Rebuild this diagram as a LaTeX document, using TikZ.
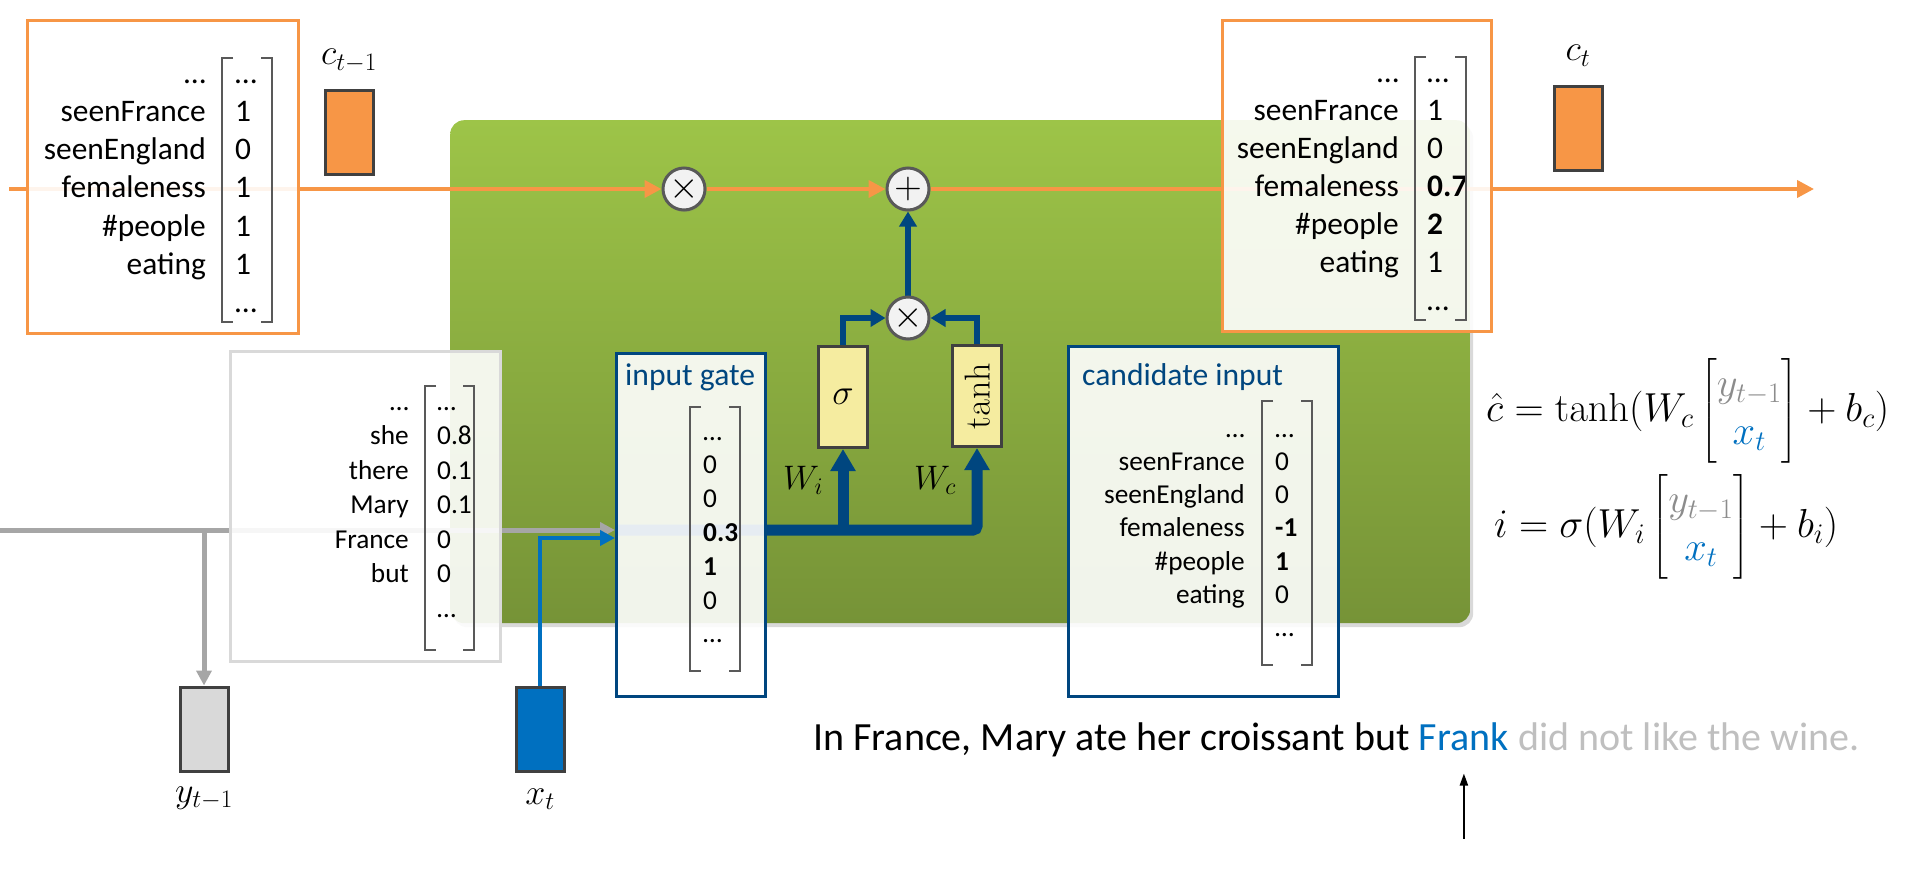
\RequirePackage{fix-cm}
\documentclass[tikz,border=0pt]{standalone}
\usepackage{amsmath}
\usepackage[no-math]{fontspec}
\setmainfont{Carlito}
\usetikzlibrary{positioning, arrows.meta, shadows}

\definecolor{cellorange}{RGB}{247,150,70}
\definecolor{darkrim}{RGB}{64,64,64}
\definecolor{lightrim}{RGB}{217,217,217}
\definecolor{gateblue}{RGB}{0,70,127}
\definecolor{xblue}{RGB}{0,112,192}
\definecolor{greytrack}{RGB}{166,166,166}
\definecolor{mathgrey}{RGB}{140,140,140}
\definecolor{actfill}{RGB}{245,236,160}
\definecolor{greentop}{RGB}{157,196,72}
\definecolor{greenbot}{RGB}{118,147,55}
\definecolor{opfill}{RGB}{242,242,242}
\definecolor{oprim}{RGB}{89,89,89}
\definecolor{fadetext}{RGB}{191,191,191}

\pgfdeclarelayer{body}
\pgfdeclarelayer{wires}
\pgfsetlayers{body,wires,main}

\newcommand{\vecbig}{\fontsize{31.4}{38}\selectfont}
\newcommand{\vecsmall}{\fontsize{27.3}{33}\selectfont}
\newcommand{\boxtitle}{\fontsize{31.6}{38}\selectfont}
\newcommand{\sentfont}{\fontsize{40}{48}\selectfont}
\newcommand{\mathbig}{\fontsize{36}{43}\selectfont}
\newcommand{\mathhuge}{\fontsize{40.5}{48}\selectfont}
\newcommand{\vecbracket}[4]{%
  \draw[vecbrk] (#1+11,#3) -- (#1,#3) -- (#1,#4) -- (#1+11,#4);
  \draw[vecbrk] (#2-11,#3) -- (#2,#3) -- (#2,#4) -- (#2-11,#4);}

\begin{document}
\begin{tikzpicture}[x=1pt, y=-1pt]
\tikzstyle{vecbox}=[draw, line width=3pt, fill=white, fill opacity=0.9, inner sep=0, anchor=north west]
\tikzstyle{rowlab}=[anchor=base east, inner sep=0]
\tikzstyle{rowval}=[anchor=base west, inner sep=0]
\tikzstyle{vecbrk}=[draw=oprim, line width=2pt]
\tikzstyle{boxhead}=[anchor=base west, inner sep=0, text=gateblue, font=\boxtitle]
\tikzstyle{cellrect}=[draw=darkrim, line width=3pt, minimum width=48pt, minimum height=84pt, inner sep=0]
\tikzstyle{opnode}=[circle, draw=oprim, line width=3pt, fill=opfill, minimum size=42pt, inner sep=0, font=\fontsize{38}{38}\selectfont, drop shadow={shadow xshift=1pt, shadow yshift=-2pt, opacity=0.25}]
\tikzstyle{actbox}=[draw=darkrim, line width=3pt, fill=actfill, minimum width=49pt, minimum height=101pt, inner sep=0, font=\fontsize{36}{36}\selectfont]
\tikzstyle{cellline}=[draw=cellorange, line width=4pt, -{Triangle[length=17pt,width=17pt]}]
\tikzstyle{greyline}=[draw=greytrack, line width=5pt, -{Triangle[length=15pt,width=15pt]}]
\tikzstyle{xline}=[draw=xblue, line width=4.5pt, -{Triangle[length=15pt,width=15pt]}]
\tikzstyle{gatepath}=[draw=gateblue, line width=11pt, -{Triangle[length=22pt,width=24pt]}]
\tikzstyle{wireblue}=[draw=gateblue, line width=6pt, -{Triangle[length=15pt,width=17pt]}]

\useasboundingbox (0,0) rectangle (1918,875);

% lstm cell body
\begin{pgfonlayer}{body}
\node[rounded corners=14pt, top color=greentop, bottom color=greenbot, drop shadow={shadow xshift=3pt, shadow yshift=-4pt, opacity=0.3}, minimum width=1020pt, minimum height=503pt, anchor=north west, inner sep=0] (cellbody) at (450,120) {};
\end{pgfonlayer}

% pointwise operations
\node[opnode] (fmul) at (684,189) {$\times$};
\node[opnode] (cadd) at (908,189) {$+$};
\node[opnode] (imul) at (908,318) {$\times$};

% gate activations
\node[actbox] (sigbox) at (843,397) {$\sigma$};
\node[actbox] (tanhbox) at (977,396) {\rotatebox{90}{$\tanh$}};
\node[font=\fontsize{34}{34}\selectfont] (wilab) at (803,480) {$W_i$};
\node[font=\fontsize{34}{34}\selectfont] (wclab) at (935,480) {$W_c$};

% small state vectors
\node[cellrect, fill=cellorange] (cprev) at (349,132) {};
\node[cellrect, fill=cellorange] (cnext) at (1578,128) {};
\node[cellrect, fill=lightrim] (yprev) at (204,729) {};
\node[cellrect, fill=xblue] (xcur) at (540,729) {};
\node[above=16pt of cprev, inner sep=0, font=\mathbig] (cprevlab) {$c_{t-1}$};
\node[above=18pt of cnext, inner sep=0, font=\mathbig] (cnextlab) {$c_t$};
\node[below=14pt of yprev, inner sep=0, font=\mathbig] (yprevlab) {$y_{t-1}$};
\node[below=16pt of xcur, inner sep=0, font=\mathbig] (xcurlab) {$x_t$};

% big boxes
\node[vecbox, draw=cellorange, minimum width=271pt, minimum height=313pt] (cprevbox) at (26,19) {};
\node[vecbox, draw=cellorange, minimum width=269pt, minimum height=311pt] (cnextbox) at (1221,19) {};
\node[vecbox, draw=lightrim, minimum width=270pt, minimum height=310pt] (yprevbox) at (229,350) {};
\node[vecbox, draw=gateblue, minimum width=149pt, minimum height=343pt] (igate) at (615,352) {};
\node[vecbox, draw=gateblue, minimum width=270pt, minimum height=350pt] (cand) at (1067,345) {};

% wires under the boxes
\coordinate (cin) at (9,189);
\coordinate (cout) at (1814,189);
\coordinate (yin) at (0,530);
\coordinate (xjoin) at (0,538);
\begin{pgfonlayer}{wires}
\path[cellline] (cin) -- (fmul);
\path[cellline] (fmul) -- (cadd);
\path[cellline] (cadd) -- (cout);
\path[greyline] (yin) -- (yin -| igate.west);
\path[greyline] (yin -| yprev.north) -- (yprev.north);
\path[xline] (xcur.north) |- (xjoin -| igate.west);
\path[gatepath, rounded corners=4pt] (yin -| igate.west) -| (tanhbox.south);
\path[gatepath] (yin -| sigbox.south) -- (sigbox.south);
\path[wireblue] (sigbox.north) |- (imul.west);
\path[wireblue] (tanhbox.north) |- (imul.east);
\path[wireblue] (imul) -- (cadd);
\end{pgfonlayer}

% vector contents
\foreach \lab/\val [count=\i from 0] in {…/…, seenFrance/1, seenEngland/0, femaleness/1, \#people/1, eating/1, /…}{
  \node[rowlab, font=\vecbig] (cprevlab\i) at (206, 83+38.3*\i) {\lab};
  \node[rowval, font=\vecbig] (cprevval\i) at (235, 83+38.3*\i) {\val};
}
\vecbracket{222}{272}{58}{322}

\foreach \lab/\val [count=\i from 0] in {…/…, seenFrance/1, seenEngland/0, femaleness/\textbf{0.7}, \#people/\textbf{2}, eating/1, /…}{
  \node[rowlab, font=\vecbig] (cnextlab\i) at (1399, 82+38*\i) {\lab};
  \node[rowval, font=\vecbig] (cnextval\i) at (1427, 82+38*\i) {\val};
}
\vecbracket{1415}{1466}{57}{320}

\foreach \lab/\val [count=\i from 0] in {…/…, she/0.8, there/0.1, Mary/0.1, France/0, but/0, /…}{
  \node[rowlab, font=\vecsmall] (yprevlab\i) at (409, 410+34.5*\i) {\lab};
  \node[rowval, font=\vecsmall] (yprevval\i) at (437, 410+34.5*\i) {\val};
}
\vecbracket{425}{474}{386}{650}

\node[boxhead] (igatehead) at (625,385) {input gate};
\foreach \val [count=\i from 0] in {…, 0, 0, \textbf{0.3}, \textbf{1}, 0, …}{
  \node[rowval, font=\vecsmall] (igateval\i) at (703, 440+33.8*\i) {\val};
}
\vecbracket{690}{740}{407}{671}

\node[boxhead] (candhead) at (1082,385) {candidate input};
\foreach \lab/\val [count=\i from 0] in {…/…, seenFrance/0, seenEngland/0, femaleness/\textbf{-1}, \#people/\textbf{1}, eating/0, /…}{
  \node[rowlab, font=\vecsmall] (candlab\i) at (1245, 437+33.3*\i) {\lab};
  \node[rowval, font=\vecsmall] (candval\i) at (1275, 437+33.3*\i) {\val};
}
\vecbracket{1262}{1312}{401}{665}

% equations
\node[anchor=west, inner sep=0, font=\mathhuge] (ceq) at (1486,411) {$\hat{c} = \tanh(W_c \begin{bmatrix} \color{mathgrey} y_{t-1} \\ \color{xblue} x_t \end{bmatrix} + b_c)$};
\node[anchor=west, inner sep=0, font=\mathhuge] (ieq) at (1494,527) {$i = \sigma(W_i \begin{bmatrix} \color{mathgrey} y_{t-1} \\ \color{xblue} x_t \end{bmatrix} + b_i)$};

% sentence
\node[anchor=base west, inner sep=0, font=\sentfont] (sent) at (813,750) {In France, Mary ate her croissant but};
\node[base right=9pt of sent, inner sep=0, font=\sentfont, text=xblue] (frank) {Frank};
\node[base right=9pt of frank, inner sep=0, font=\sentfont, text=fadetext] (rest) {did not like the wine.};
\coordinate (pointer) at ([yshift=-88pt]frank.south);
\draw[line width=2pt, -{Triangle[length=12pt,width=8pt]}] (pointer) -- ([yshift=-23pt]frank.south);

\end{tikzpicture}
\end{document}
